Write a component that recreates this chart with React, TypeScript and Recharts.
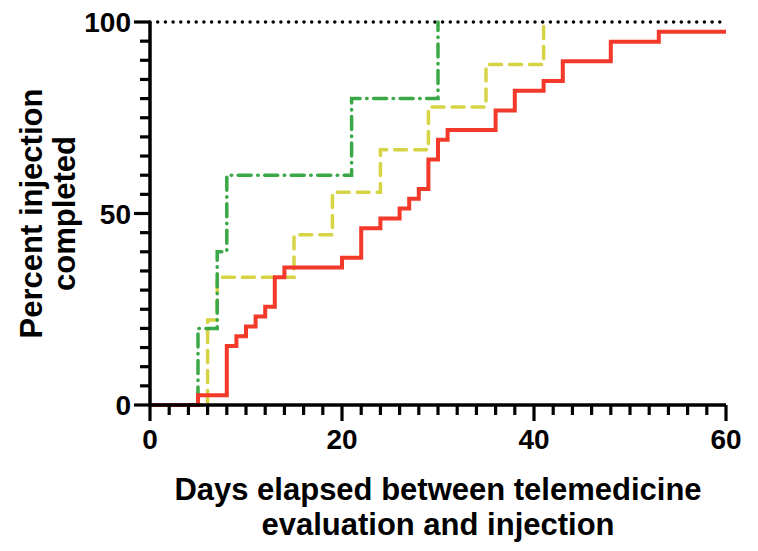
import { LineChart, Line, XAxis, YAxis, ReferenceLine } from "recharts";

const xTicks = [0, 2, 4, 6, 8, 10, 12, 14, 16, 18, 20, 22, 24, 26, 28, 30, 32, 34, 36, 38, 40, 42, 44, 46, 48, 50, 52, 54, 56, 58, 60];
const xLabels = [0, 20, 40, 60];
const yTicks = [0, 5, 10, 15, 20, 25, 30, 35, 40, 45, 50, 55, 60, 65, 70, 75, 80, 85, 90, 95, 100];
const yLabels = [0, 50, 100];

const redDays = [0, 5, 8, 9, 10, 11, 12, 13, 14, 20, 22, 24, 26, 27, 28, 29, 30, 31, 36, 38, 41, 43, 48, 53, 60];
const redPercent = [0, 2.56, 15.38, 17.95, 20.51, 23.08, 25.64, 33.33, 35.9, 38.46, 46.15, 48.72, 51.28, 53.85, 56.41, 64.1, 69.23, 71.79, 76.92, 82.05, 84.62, 89.74, 94.87, 97.44, 97.44];

const greenDays = [0, 5, 7, 8, 21, 30];
const greenPercent = [0, 20, 40, 60, 80, 100];

const yellowDays = [0, 6, 7, 15, 19, 24, 29, 35, 41];
const yellowPercent = [0, 22.22, 33.33, 44.44, 55.56, 66.67, 77.78, 88.89, 100];

const toRows = (days: number[], pct: number[]) => days.map((d, i) => ({ day: d, pct: pct[i] }));

const FONT = "'Liberation Sans', Arial, Helvetica, sans-serif";

const XTick = (props: any) => {
  const { x, y, payload } = props;
  const major = xLabels.includes(payload.value);
  return (
    <g>
      <line x1={x} x2={x} y1={y} y2={y + (major ? 16 : 10)} stroke="#000" strokeWidth={3.2} />
      {major && (
        <text x={x} y={y + 44} textAnchor="middle" fontFamily={FONT} fontWeight="bold" fontSize={28} fill="#000">
          {payload.value}
        </text>
      )}
    </g>
  );
};

const YTick = (props: any) => {
  const { x, y, payload } = props;
  const major = yLabels.includes(payload.value);
  return (
    <g>
      <line x1={x} x2={x - (major ? 16 : 10)} y1={y} y2={y} stroke="#000" strokeWidth={3.2} />
      {major && (
        <text x={x - 19} y={y} dy="0.36em" textAnchor="end" fontFamily={FONT} fontWeight="bold" fontSize={28} fill="#000">
          {payload.value}
        </text>
      )}
    </g>
  );
};

const XTitle = (props: any) => {
  const vb = props.viewBox;
  const cx = vb.x + vb.width / 2;
  return (
    <text textAnchor="middle" fontFamily={FONT} fontWeight="bold" fontSize={31} fill="#000">
      <tspan x={cx} y={492}>Days elapsed between telemedicine</tspan>
      <tspan x={cx} y={527}>evaluation and injection</tspan>
    </text>
  );
};

const YTitle = (props: any) => {
  const vb = props.viewBox;
  const cy = vb.y + vb.height / 2;
  return (
    <g>
      <text x={34} y={cy} transform={`rotate(-90, 34, ${cy})`} textAnchor="middle" fontFamily={FONT} fontWeight="bold" fontSize={31} fill="#000">
        Percent injection
      </text>
      <text x={67} y={cy} transform={`rotate(-90, 67, ${cy})`} textAnchor="middle" fontFamily={FONT} fontWeight="bold" fontSize={31} fill="#000">
        completed
      </text>
    </g>
  );
};

export default function App() {
  return (
    <LineChart width={742} height={535} margin={{ top: 14, right: 24, bottom: 0, left: 0 }}>
      <XAxis
        type="number"
        dataKey="day"
        domain={[0, 60]}
        ticks={xTicks}
        interval={0}
        height={138}
        tickSize={0}
        tickMargin={0}
        tick={<XTick />}
        axisLine={{ stroke: "#000", strokeWidth: 3.5 }}
        label={{ content: XTitle }}
      />
      <YAxis
        type="number"
        domain={[0, 100]}
        ticks={yTicks}
        interval={0}
        width={142}
        tickSize={0}
        tickMargin={0}
        tick={<YTick />}
        axisLine={{ stroke: "#000", strokeWidth: 3.5 }}
        label={{ content: YTitle }}
      />
      <ReferenceLine y={100} stroke="#000" strokeWidth={3.5} strokeDasharray="0 7.7" strokeLinecap="round" />
      <Line
        data={toRows(yellowDays, yellowPercent)}
        dataKey="pct"
        type="stepAfter"
        stroke="#d6d444"
        strokeWidth={3.5}
        strokeDasharray="12 8"
        strokeLinecap="round"
        dot={false}
        isAnimationActive={false}
      />
      <Line
        data={toRows(greenDays, greenPercent)}
        dataKey="pct"
        type="stepAfter"
        stroke="#3aa846"
        strokeWidth={3.5}
        strokeDasharray="13 6.5 0.5 6.5"
        strokeLinecap="round"
        dot={false}
        isAnimationActive={false}
      />
      <Line
        data={toRows(redDays, redPercent)}
        dataKey="pct"
        type="stepAfter"
        stroke="#f2392a"
        strokeWidth={4}
        dot={false}
        isAnimationActive={false}
      />
    </LineChart>
  );
}
